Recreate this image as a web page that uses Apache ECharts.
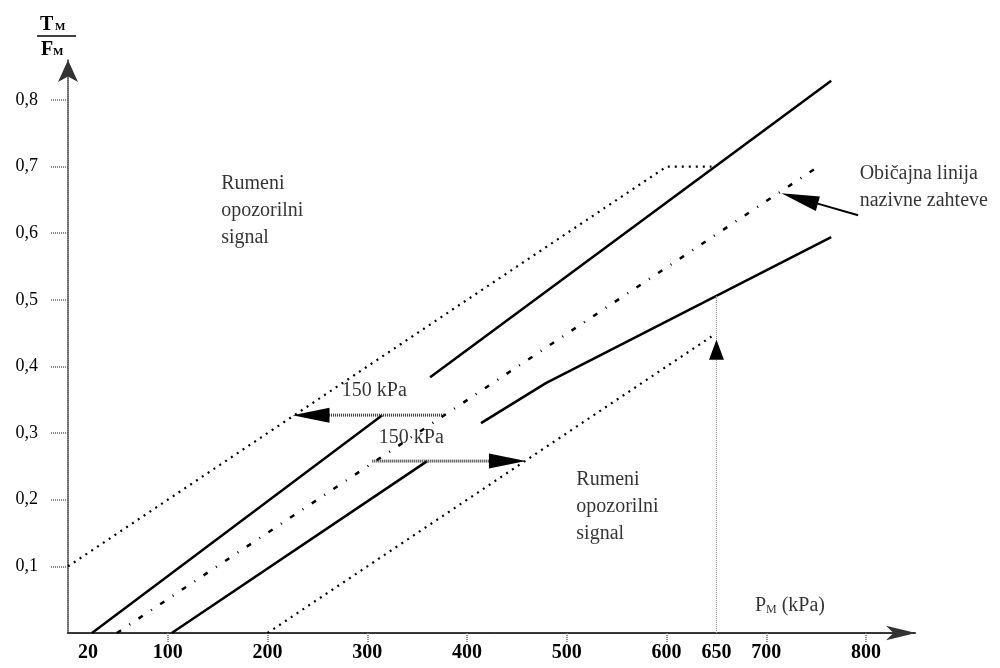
<!DOCTYPE html>
<html><head><meta charset="utf-8">
<script src="https://cdn.jsdelivr.net/npm/echarts@6/dist/echarts.min.js"></script>
<style>html,body{margin:0;padding:0;background:#fff}#c{width:1000px;height:668px}</style>
</head><body><div id="c"></div>
<script>
// ---- axis ticks / labels ----
const xTickValues = [100, 200, 300, 400, 500, 600, 700, 800];
const xLabelValues = [20, 100, 200, 300, 400, 500, 600, 650, 700, 800];
const yTickValues = [0.1, 0.2, 0.3, 0.4, 0.5, 0.6, 0.7, 0.8];

// ---- lines (P_M kPa, T_M/F_M) ----
const upperSolidA = [[24, 0], [315, 0.327]];
const upperSolidB = [[363, 0.384], [765, 0.829]];
const lowerSolidA = [[104, 0], [360, 0.258]];
const lowerSolidB = [[414, 0.315], [479, 0.375], [765, 0.594]];
const nominalLine = [[49, 0], [754, 0.702]];
const upperWarning = [[0, 0.1], [600, 0.7], [645, 0.7]];
const lowerWarning = [[200, 0], [645, 0.445]];
const guide650 = [[650, 0], [650, 0.506]];

// ---- arrows [fromX, fromY, toX, toY] ----
const shiftLeftArrow = [[377, 0.327, 225, 0.327]];
const shiftRightArrow = [[305, 0.258, 459, 0.258]];
const arrow650 = [[650, 0.2, 650, 0.44]];
const nominalPointer = [[792, 0.627, 715, 0.66]];

// ---- annotations ----
const annotationTexts = [
  'Rumeni\nopozorilni\nsignal',
  'Rumeni\nopozorilni\nsignal',
  'Običajna linija\nnazivne zahteve',
  '150 kPa',
  '150 kPa',
  '{a|P}{b|M}{a| (kPa)}'
];
const annotationAnchors = [[154, 0.694], [510, 0.25], [794, 0.709], [275, 0.383], [312, 0.312], [689, 0.058]];

const SERIF = '"Liberation Serif", "DejaVu Serif", serif';

function lineSeries(name, data, style) {
  return { name, type: 'line', data, symbol: 'none', silent: true, animation: false,
           lineStyle: style, z: 3 };
}
function arrowSeries(name, data, shaft, headLen, headW) {
  return {
    name, type: 'custom', data, silent: true, animation: false, clip: false, z: 5,
    encode: { x: [0, 2], y: [1, 3] },
    renderItem: function (params, api) {
      const p1 = api.coord([api.value(0), api.value(1)]);
      const p2 = api.coord([api.value(2), api.value(3)]);
      const dx = p2[0] - p1[0], dy = p2[1] - p1[1];
      const len = Math.sqrt(dx * dx + dy * dy);
      const ux = dx / len, uy = dy / len;
      const bx = p2[0] - ux * headLen, by = p2[1] - uy * headLen;
      const nx = -uy, ny = ux;
      return { type: 'group', children: [
        { type: 'line', shape: { x1: p1[0], y1: p1[1], x2: bx + ux * 2, y2: by + uy * 2 }, style: shaft },
        { type: 'polygon', shape: { points: [p2, [bx + nx * headW / 2, by + ny * headW / 2], [bx - nx * headW / 2, by - ny * headW / 2]] },
          style: { fill: '#000' } }
      ] };
    }
  };
}

const chart = echarts.init(document.getElementById('c'), null, { renderer: 'canvas' });

const annotationData = annotationTexts.map((t, i) => ({ value: annotationAnchors[i], label: { formatter: t } }));

chart.setOption({
  backgroundColor: '#fff',
  animation: false,
  grid: { left: 68, right: 84, top: 60, bottom: 35 },
  xAxis: {
    type: 'value', min: 0, max: 850,
    splitLine: { show: false },
    axisLine: { show: true, symbol: ['none', 'arrow'], symbolSize: [11, 30],
      lineStyle: { color: '#333', width: 2, type: [1, 1] } },
    axisTick: { show: true, customValues: xTickValues, length: 10,
      lineStyle: { color: '#666', width: 1.5, type: [1, 1] } },
    axisLabel: { customValues: xLabelValues, margin: 10, color: '#000',
      fontFamily: SERIF, fontWeight: 'bold', fontSize: 20 }
  },
  yAxis: {
    type: 'value', min: 0, max: 0.86,
    splitLine: { show: false },
    axisLine: { show: true, symbol: ['none', 'arrow'], symbolSize: [15, 22],
      lineStyle: { color: '#333', width: 1.5, type: [1, 1] } },
    axisTick: { show: true, customValues: yTickValues, length: 18,
      lineStyle: { color: '#666', width: 1.5, type: [1, 1] } },
    axisLabel: { customValues: yTickValues, margin: 30, color: '#000',
      fontFamily: SERIF, fontSize: 18,
      formatter: v => v.toFixed(1).replace('.', ',') }
  },
  graphic: [
    { type: 'text', left: 40, top: 15, style: { text: 'T', font: 'bold 20px ' + SERIF, fill: '#000' } },
    { type: 'text', left: 55, top: 22, style: { text: 'M', font: 'bold 11px ' + SERIF, fill: '#000' } },
    { type: 'line', shape: { x1: 37, y1: 36, x2: 76, y2: 36 }, style: { stroke: '#000', lineWidth: 1.5 } },
    { type: 'text', left: 41, top: 40, style: { text: 'F', font: 'bold 20px ' + SERIF, fill: '#000' } },
    { type: 'text', left: 53, top: 47, style: { text: 'M', font: 'bold 11px ' + SERIF, fill: '#000' } }
  ],
  series: [
    lineSeries('upperSolidA', upperSolidA, { color: '#000', width: 2.5 }),
    lineSeries('upperSolidB', upperSolidB, { color: '#000', width: 2.5 }),
    lineSeries('lowerSolidA', lowerSolidA, { color: '#000', width: 2.5 }),
    lineSeries('lowerSolidB', lowerSolidB, { color: '#000', width: 2.5 }),
    lineSeries('nominal', nominalLine, { color: '#000', width: 2.5, type: [5, 10, 1, 10] }),
    lineSeries('upperWarning', upperWarning, { color: '#000', width: 2.2, type: [2, 5] }),
    lineSeries('lowerWarning', lowerWarning, { color: '#000', width: 2.2, type: [2, 5] }),
    lineSeries('guide650', guide650, { color: '#999', width: 1.2, type: [1, 1] }),
    arrowSeries('shiftLeft', shiftLeftArrow, { stroke: '#333', lineWidth: 3, lineDash: [1, 1] }, 37, 15),
    arrowSeries('shiftRight', shiftRightArrow, { stroke: '#333', lineWidth: 3, lineDash: [1, 1] }, 37, 15),
    arrowSeries('arrow650', arrow650, { stroke: 'rgba(0,0,0,0)', lineWidth: 1 }, 20, 15),
    arrowSeries('nominalPointer', nominalPointer, { stroke: '#000', lineWidth: 2 }, 38, 15),
    {
      name: 'annotations', type: 'scatter', data: annotationData, symbolSize: 1, silent: true, z: 6,
      itemStyle: { color: 'rgba(0,0,0,0)' },
      label: { show: true, position: [0, 0], align: 'left', verticalAlign: 'top',
        color: '#000', fontFamily: SERIF, fontSize: 20, lineHeight: 27,
        rich: {
          a: { fontFamily: SERIF, fontSize: 20, color: '#000', verticalAlign: 'bottom', lineHeight: 22 },
          b: { fontFamily: SERIF, fontSize: 12, color: '#000', verticalAlign: 'bottom', lineHeight: 22 }
        } }
    }
  ]
});
</script></body></html>
